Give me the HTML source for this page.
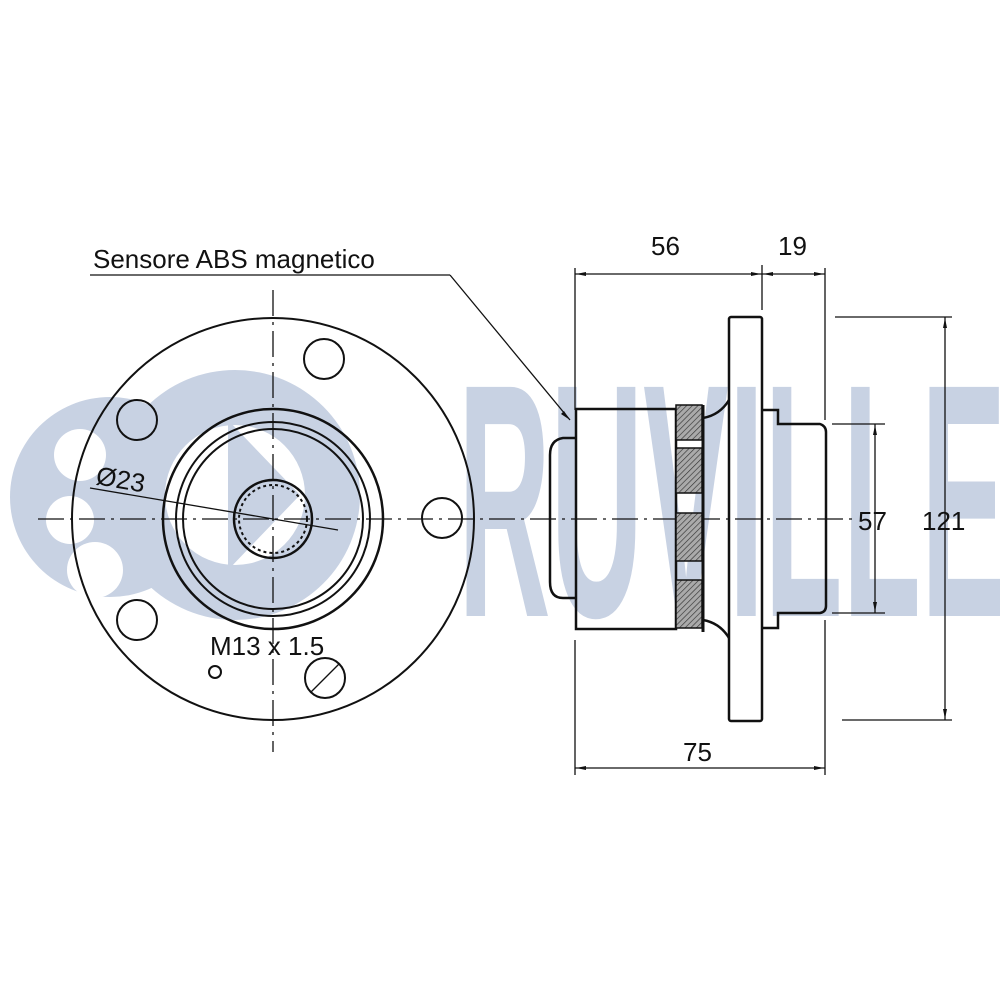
<!DOCTYPE html>
<html><head><meta charset="utf-8"><style>
html,body{margin:0;padding:0;background:#fff}
svg{display:block}
text{font-family:"Liberation Sans",Arial,sans-serif;fill:#111}
</style></head><body>
<svg width="1000" height="1000" viewBox="0 0 1000 1000" xmlns="http://www.w3.org/2000/svg">
<defs>
<pattern id="h" width="4" height="4" patternUnits="userSpaceOnUse" patternTransform="rotate(45)">
<rect width="4" height="4" fill="#aaa"/><line x1="0" y1="0" x2="0" y2="4" stroke="#333" stroke-width="1.3"/>
</pattern>
</defs>
<!-- watermark -->
<g fill="#c8d2e3">
<circle cx="110" cy="497" r="100"/>
<circle cx="235" cy="495" r="125"/>
</g>
<g fill="#fff">
<circle cx="80" cy="455" r="26"/>
<circle cx="70" cy="520" r="24"/>
<circle cx="95" cy="570" r="28"/>
<circle cx="235" cy="495" r="70"/>
</g>
<path d="M228 420 L300 495 L228 570 Z" fill="#c8d2e3"/>
<text x="458" y="616" font-size="333" font-weight="bold" transform="translate(458 0) scale(0.385 1) translate(-458 0)" style="fill:#c8d2e3">RUVILLE</text>

<g fill="none" stroke="#111" stroke-width="2">
<!-- left view -->
<circle cx="273" cy="519" r="201"/>
<circle cx="273" cy="519" r="110" stroke-width="2.5"/>
<circle cx="273" cy="519" r="97"/>
<circle cx="273" cy="519" r="90"/>
<circle cx="273" cy="519" r="39" stroke-width="2.5"/>
<circle cx="273" cy="519" r="34" stroke-dasharray="3 3" stroke-width="2"/>
<circle cx="324" cy="359" r="20"/>
<circle cx="137" cy="420" r="20"/>
<circle cx="137" cy="620" r="20"/>
<circle cx="325" cy="678" r="20"/>
<circle cx="442" cy="518" r="20"/>
<circle cx="215" cy="672" r="6"/>
<line x1="311" y1="692" x2="339" y2="664" stroke-width="1.3"/>
</g>
<g stroke="#111" stroke-width="1.3" fill="none">
<line x1="38" y1="519" x2="855" y2="519" stroke-dasharray="26 6 3 6"/>
<line x1="273" y1="290" x2="273" y2="752" stroke-dasharray="26 6 3 6"/>
<line x1="90" y1="488" x2="338" y2="530"/>
<line x1="90" y1="275" x2="450" y2="275"/>
<line x1="450" y1="275" x2="570" y2="420"/>
</g>
<text x="95" y="484" font-size="26" transform="rotate(10 95 484)">Ø23</text>
<text x="210" y="655" font-size="26">M13 x 1.5</text>
<text x="93" y="268" font-size="26">Sensore ABS magnetico</text>

<!-- right view -->
<g fill="none" stroke="#111" stroke-width="2.5">
<rect x="729" y="317" width="33" height="404" rx="2"/>
<rect x="576" y="409" width="100" height="220"/>
<path d="M576 438 L563 438 Q550 440 550 455 L550 582 Q550 598 563 598 L576 598"/>
<path d="M703 418 Q720 415 729 400 M703 620 Q720 623 729 638"/>
<path d="M762 410 L778 410 L778 424 L820 424 Q826 426 826 432 L826 606 Q826 612 820 613 L778 613 L778 628 L762 628"/>
</g>
<g fill="url(#h)" stroke="#111" stroke-width="1.5">
<rect x="676" y="405" width="26" height="35"/>
<rect x="676" y="448" width="26" height="45"/>
<rect x="676" y="513" width="26" height="48"/>
<rect x="676" y="580" width="26" height="48"/>
</g>
<line x1="703" y1="405" x2="703" y2="632" stroke="#111" stroke-width="3"/>

<!-- dimensions -->
<g stroke="#111" stroke-width="1.3" fill="none">
<line x1="575" y1="268" x2="575" y2="410"/>
<line x1="762" y1="265" x2="762" y2="310"/>
<line x1="825" y1="268" x2="825" y2="420"/>
<line x1="575" y1="274" x2="825" y2="274"/>
<line x1="575" y1="640" x2="575" y2="775"/>
<line x1="825" y1="620" x2="825" y2="775"/>
<line x1="575" y1="768" x2="825" y2="768"/>
<line x1="835" y1="317" x2="952" y2="317"/>
<line x1="842" y1="720" x2="952" y2="720"/>
<line x1="945" y1="317" x2="945" y2="720"/>
<line x1="832" y1="424" x2="885" y2="424"/>
<line x1="832" y1="613" x2="885" y2="613"/>
<line x1="875" y1="424" x2="875" y2="613"/>
</g>
<g fill="#111">
<path d="M576 274 l10 -2 v4z M761 274 l-10 -2 v4z M763 274 l10 -2 v4z M824 274 l-10 -2 v4z"/>
<path d="M576 768 l10 -2 v4z M824 768 l-10 -2 v4z"/>
<path d="M945 318 l-2 10 h4z M945 719 l-2 -10 h4z"/>
<path d="M875 425 l-2 10 h4z M875 612 l-2 -10 h4z"/>
<path d="M570 420 l-9 -6 l3 -3z"/>
</g>
<text x="651" y="255" font-size="26">56</text>
<text x="778" y="255" font-size="26">19</text>
<text x="683" y="761" font-size="26">75</text>
<text x="858" y="530" font-size="26">57</text>
<text x="922" y="530" font-size="26">121</text>
</svg>
</body></html>
